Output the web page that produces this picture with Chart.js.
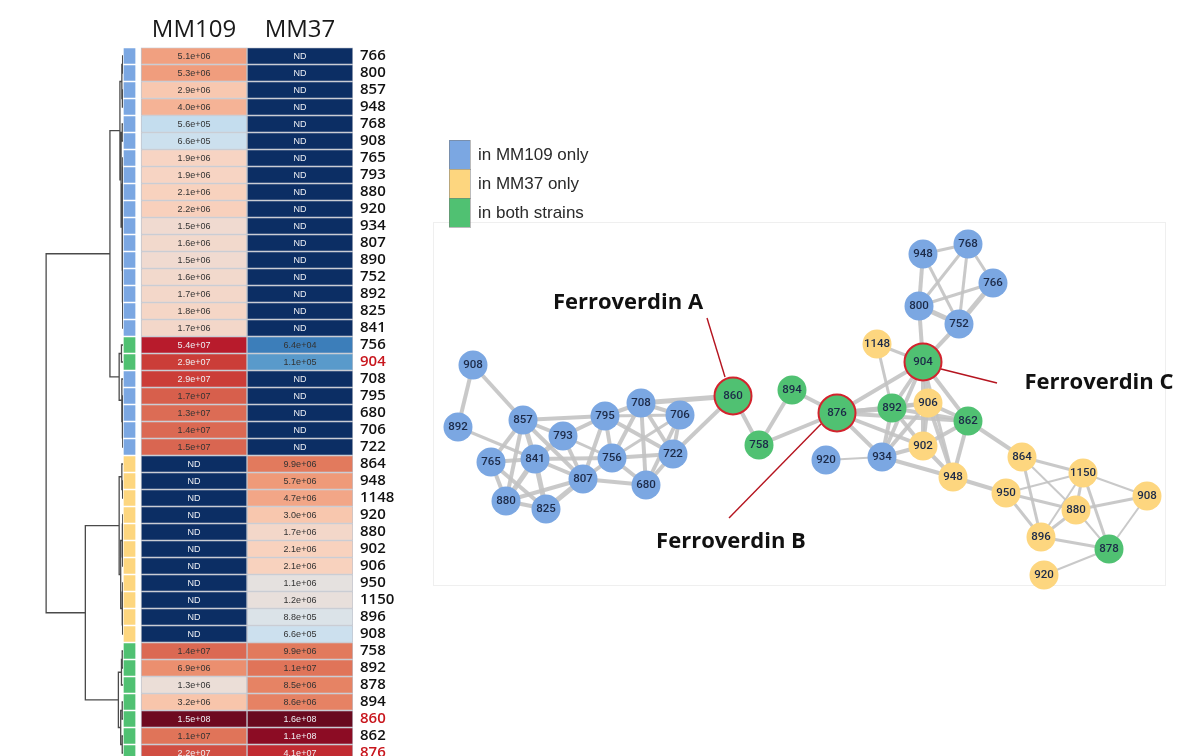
<!DOCTYPE html>
<html>
<head>
<meta charset="utf-8">
<script src="https://cdn.jsdelivr.net/npm/chart.js@4"></script>
<style>
  html, body { margin: 0; padding: 0; background: #fff; overflow: hidden; }
  #wrap { position: relative; width: 1178px; height: 756px; overflow: hidden; }
  canvas { position: absolute; }
</style>
</head>
<body>
<div id="wrap">
  <canvas id="dendro" width="123" height="770" style="left:0;top:0"></canvas>
  <canvas id="heat" width="320" height="790" style="left:100px;top:0"></canvas>
  <canvas id="net" width="758" height="490" style="left:420px;top:120px"></canvas>
</div>
<script>
// ---- heatmap data (rows top to bottom) ----
const rowLabels = ['766','800','857','948','768','908','765','793','880','920','934','807','890','752','892','825','841',
  '756','904','708','795','680','706','722',
  '864','948','1148','920','880','902','906','950','1150','896','908',
  '758','892','878','894','860','862','876'];
const rowGroups = ['b','b','b','b','b','b','b','b','b','b','b','b','b','b','b','b','b',
  'g','g','b','b','b','b','b',
  'y','y','y','y','y','y','y','y','y','y','y',
  'g','g','g','g','g','g','g'];
const mm109 = [5.1e6,5.3e6,2.9e6,4.0e6,5.6e5,6.6e5,1.9e6,1.9e6,2.1e6,2.2e6,1.5e6,1.6e6,1.5e6,1.6e6,1.7e6,1.8e6,1.7e6,
  5.4e7,2.9e7,2.9e7,1.7e7,1.3e7,1.4e7,1.5e7,
  null,null,null,null,null,null,null,null,null,null,null,
  1.4e7,6.9e6,1.3e6,3.2e6,1.5e8,1.1e7,2.2e7];
const mm37 = [null,null,null,null,null,null,null,null,null,null,null,null,null,null,null,null,null,
  6.4e4,1.1e5,null,null,null,null,null,
  9.9e6,5.7e6,4.7e6,3.0e6,1.7e6,2.1e6,2.1e6,1.1e6,1.2e6,8.8e5,6.6e5,
  9.9e6,1.1e7,8.5e6,8.6e6,1.6e8,1.1e8,4.1e7];
const columnLabels = ['MM109', 'MM37'];
const redRows = [18, 39, 41];

// dendrogram: [height, left, right], leaves are row indices
const tree = [10,
  [1.7,
    [0.4,
      [0.15, [0.05, 0, 1], [0.08, 2, 3]],
      [0.25, [0.1, 4, 5],
        [0.12, [0.06, [0.03, 6, 7], [0.03, 8, 9]],
               [0.08, [0.04, 10, [0.02, 11, 12]], [0.05, [0.02, 13, 14], [0.03, 15, 16]]]]]],
    [0.5, [0.2, 17, 18], [0.15, 19, [0.1, [0.03, 20, 21], [0.03, 22, 23]]]]],
  [4.9,
    [0.5, [0.15, 24, [0.05, 25, 26]],
          [0.3, [0.1, [0.03, 27, 28], [0.04, 29, 30]], [0.12, [0.03, 31, 32], [0.05, 33, 34]]]],
    [0.6, [0.2, [0.1, 35, 36], 37], [0.3, [0.1, 38, 39], [0.1, 40, 41]]]]];

// ---- network data ----
const nodeIds = ['b908','b892','b857','b793','b795','b708','b706','g860','g894','g758','b765','b841','b756','b722',
  'b807','b680','b880','b825','b948','b768','b766','b800','b752','y1148','g904','g876','g892','y906','g862',
  'y902','b934','b920','y948','y864','y1150','y950','y880','y908','y896','g878','y920'];
const nodeX = [473,458,523,563,605,641,680,733,792,759,491,535,612,673,583,646,506,546,
  923,968,993,919,959,877,923,837,892,928,968,923,882,826,953,1022,1083,1006,1076,1147,1041,1109,1044];
const nodeY = [365,427,420,436,416,403,415,396,390,445,462,459,458,454,479,485,501,509,
  254,244,283,306,324,344,362,413,408,403,421,446,457,460,477,457,473,493,510,496,537,549,575];
const highlighted = ['g860','g876','g904'];
const edges = ['b908-b892','b908-b857','b892-b841','b857-b795','b857-b793','b857-b765','b857-b841','b857-b807',
  'b857-b880','b793-b841','b793-b807','b793-b795','b793-b756','b795-b708','b795-b756','b795-b722','b795-b807',
  'b795-b706','b708-b706','b708-g860','b708-b756','b708-b722','b708-b680','b706-b722','b706-b756','b706-b680',
  'b722-g860','b722-b756','b722-b680','b756-b680','b756-b807','b756-b841','b807-b680','b765-b841','b765-b880',
  'b765-b825','b841-b880','b841-b825','b841-b807','b880-b825','b807-b825','b807-b880',
  'g860-g758','g758-g894','g758-g876','g894-g876','g876-g904','g876-g892','g876-y906','g876-g862','g876-y902',
  'g876-b934','b920-b934','b934-g892','b934-g904','b934-y906','b934-y902','b934-y948','g892-g904','g892-y906',
  'g892-y902','g892-g862','y906-g904','y906-y902','y906-g862','y906-y948','y902-g904','y902-g862','y902-y948',
  'g862-g904','g862-y948','g862-y864','y1148-g904','y1148-g892','g904-b800','g904-b752','g904-y948',
  'b800-b948','b800-b766','b800-b752','b800-b768','b948-b768','b948-b752','b768-b766','b768-b752','b766-b752',
  'y948-y950','y864-y1150','y864-y880','y864-y896','y950-y1150','y950-y880','y950-y896','y1150-y880',
  'y1150-y908','y1150-g878','y1150-y896','y880-y908','y880-y896','y880-g878','y908-g878','y896-g878','g878-y920'];
const edgeWeight = [3,3,2,3,3,3,4,3,3,4,3,3,2,3,3,3,3,2,3,4,3,3,3,3,2,3,3,3,3,3,3,3,3,3,3,3,4,4,3,3,4,3,
  3,3,3,3,3,4,3,3,3,3,1,3,3,3,3,3,3,3,3,3,3,3,3,3,3,3,3,3,3,3,2,2,3,3,2,
  3,2,4,2,2,2,2,2,4,3,2,1,2,1,2,2,2,1,2,1,2,2,1,1,2,1];
const annotations = [
  { text: 'Ferroverdin A', tx: 628, ty: 303, from: [707, 318], to: [725, 377] },
  { text: 'Ferroverdin B', tx: 731, ty: 542, from: [729, 518], to: [821, 424] },
  { text: 'Ferroverdin C', tx: 1099, ty: 383, from: [941, 369], to: [997, 383] }
];
const legendItems = [['b', 'in MM109 only'], ['y', 'in MM37 only'], ['g', 'in both strains']];

const groupColors = { b: '#7ba7e2', y: '#fdd67f', g: '#50c172' };
const ndColor = '#0c2e64';
const stops = [[4.8,'#3b7dba'],[5.05,'#5a9bcc'],[5.75,'#c4ddee'],[5.85,'#cfe2ee'],[6.0,'#e2e3e4'],
  [6.15,'#eedcd3'],[6.3,'#f8d3c0'],[6.5,'#f8c6ac'],[6.6,'#f5b396'],[6.72,'#f09e7d'],[6.85,'#eb8e6e'],
  [7.0,'#e2795c'],[7.2,'#d8634f'],[7.45,'#cc3f39'],[7.75,'#b7192b'],[8.05,'#8b0c24'],[8.2,'#690a1f']];

function hexRgb(h) { return [1, 3, 5].map(i => parseInt(h.substr(i, 2), 16)); }
function colorFor(v) {
  if (v == null) return ndColor;
  const l = Math.log10(v);
  if (l <= stops[0][0]) return stops[0][1];
  for (let i = 1; i < stops.length; i++) {
    if (l <= stops[i][0]) {
      const t = (l - stops[i - 1][0]) / (stops[i][0] - stops[i - 1][0]);
      const a = hexRgb(stops[i - 1][1]), b = hexRgb(stops[i][1]);
      return 'rgb(' + a.map((c, k) => Math.round(c + (b[k] - c) * t)).join(',') + ')';
    }
  }
  return stops[stops.length - 1][1];
}
function fmt(v) {
  if (v == null) return 'ND';
  return v.toExponential(1).replace(/e([+-])(\d)$/, 'e$10$2');
}

Chart.defaults.animation = false;
Chart.defaults.plugins.legend.display = false;
Chart.defaults.plugins.tooltip.enabled = false;

// ---- dendrogram ----
const dendroPts = [];
function walk(node) {
  if (typeof node === 'number') return { y: node, h: 0 };
  const [h, l, r] = node;
  const a = walk(l), b = walk(r);
  dendroPts.push({ x: a.h, y: a.y }, { x: h, y: a.y }, { x: h, y: b.y }, { x: b.h, y: b.y }, { x: null, y: null });
  return { y: (a.y + b.y) / 2, h: h };
}
walk(tree);

new Chart(document.getElementById('dendro'), {
  type: 'line',
  data: { datasets: [{ data: dendroPts, borderColor: '#4a4a4a', borderWidth: 1.3, pointRadius: 0, spanGaps: false, tension: 0 }] },
  options: {
    responsive: false,
    layout: { autoPadding: false, padding: { top: 47.5, bottom: 8.5, left: 0, right: 0 } },
    scales: {
      x: { type: 'linear', min: 0, max: 16, reverse: true, display: false },
      y: { type: 'linear', min: -0.5, max: 41.5, reverse: true, display: false }
    }
  }
});

// ---- heatmap ----
const cellText = {
  id: 'cellText',
  afterDatasetsDraw(chart) {
    const ctx = chart.ctx;
    ctx.save();
    ctx.font = '9px "Liberation Sans", Arial, sans-serif';
    ctx.textAlign = 'center';
    ctx.textBaseline = 'middle';
    [mm109, mm37].forEach((vals, di) => {
      chart.getDatasetMeta(di).data.forEach((el, i) => {
        const v = vals[i];
        const dark = v == null || Math.log10(v) >= 7.3;
        ctx.fillStyle = dark ? '#eef0f4' : '#333';
        const p = el.getCenterPoint();
        ctx.fillText(fmt(v), p.x, p.y + 0.5);
      });
    });
    ctx.restore();
  }
};

new Chart(document.getElementById('heat'), {
  type: 'bar',
  data: {
    labels: rowLabels,
    datasets: [
      { label: columnLabels[0], data: rowLabels.map(() => [0, 1]), backgroundColor: mm109.map(colorFor),
        borderColor: 'rgba(185,190,200,0.9)', borderWidth: 1, borderSkipped: false },
      { label: columnLabels[1], data: rowLabels.map(() => [1, 2]), backgroundColor: mm37.map(colorFor),
        borderColor: 'rgba(185,190,200,0.9)', borderWidth: 1, borderSkipped: false },
      { label: 'group', data: rowLabels.map(() => [-0.17, -0.047]), backgroundColor: rowGroups.map(g => groupColors[g]),
        borderColor: 'rgba(255,255,255,0.3)', borderWidth: 1, borderSkipped: false }
    ]
  },
  options: {
    responsive: false,
    indexAxis: 'y',
    layout: { autoPadding: false, padding: { top: 0, bottom: 28.5, left: 23, right: 0 } },
    datasets: { bar: { grouped: false, barPercentage: 1, categoryPercentage: 1 } },
    scales: {
      x: {
        type: 'linear', position: 'top', min: -0.17, max: 2,
        grid: { display: false, drawTicks: false }, border: { display: false },
        afterBuildTicks: s => { s.ticks = [{ value: 0.5 }, { value: 1.5 }]; },
        afterFit: s => { s.height = 47.5; },
        ticks: {
          padding: 3, color: '#1a1a1a', maxRotation: 0, autoSkip: false,
          font: { family: '"Open Sans", sans-serif', size: 24 },
          callback: v => columnLabels[Math.floor(v)]
        }
      },
      y: {
        type: 'category', position: 'right',
        grid: { display: false, drawTicks: false }, border: { display: false },
        afterFit: s => { s.width = 67; },
        ticks: {
          padding: 7, autoSkip: false,
          color: c => redRows.includes(c.index) ? '#c8161d' : '#111',
          font: { family: '"Open Sans", sans-serif', size: 15, weight: '600' }
        }
      }
    }
  },
  plugins: [cellText]
});

// ---- network ----
const idx = id => nodeIds.indexOf(id);
const edgePts = [];
edges.forEach(e => {
  const [a, b] = e.split('-').map(idx);
  edgePts.push({ x: nodeX[a], y: nodeY[a] }, { x: nodeX[b], y: nodeY[b] }, { x: null, y: null });
});

const netDecor = {
  id: 'netDecor',
  beforeDatasetsDraw(chart) {
    const { ctx, scales: { x, y } } = chart;
    ctx.save();
    ctx.strokeStyle = '#efefef';
    ctx.lineWidth = 1;
    ctx.strokeRect(x.getPixelForValue(433) + 0.5, y.getPixelForValue(222) + 0.5,
      x.getPixelForValue(1165) - x.getPixelForValue(433), y.getPixelForValue(585) - y.getPixelForValue(222));
    ctx.restore();
  },
  afterDatasetsDraw(chart) {
    const { ctx, scales: { x, y } } = chart;
    ctx.save();
    // node labels
    ctx.font = '500 11.5px Roboto, "Liberation Sans", sans-serif';
    ctx.textAlign = 'center';
    ctx.textBaseline = 'middle';
    ctx.fillStyle = '#1c2a48';
    chart.getDatasetMeta(0).data.forEach((el, i) => {
      ctx.fillText(nodeIds[i].slice(1), el.x, el.y + 0.5);
    });
    // annotations
    annotations.forEach(a => {
      ctx.strokeStyle = '#b5141f';
      ctx.lineWidth = 1.4;
      ctx.beginPath();
      ctx.moveTo(x.getPixelForValue(a.from[0]), y.getPixelForValue(a.from[1]));
      ctx.lineTo(x.getPixelForValue(a.to[0]), y.getPixelForValue(a.to[1]));
      ctx.stroke();
      ctx.fillStyle = '#111';
      ctx.font = '700 22px "Open Sans", sans-serif';
      ctx.fillText(a.text, x.getPixelForValue(a.tx), y.getPixelForValue(a.ty));
    });
    // legend
    legendItems.forEach(([g, label], i) => {
      const top = y.getPixelForValue(140 + i * 29);
      const left = x.getPixelForValue(449);
      ctx.fillStyle = groupColors[g];
      ctx.fillRect(left, top, 21, 29);
      ctx.strokeStyle = 'rgba(120,120,120,0.5)';
      ctx.lineWidth = 1;
      ctx.strokeRect(left + 0.5, top + 0.5, 21, 29);
      ctx.fillStyle = '#2a2a2a';
      ctx.font = '17px "Liberation Sans", Arial, sans-serif';
      ctx.textAlign = 'left';
      ctx.fillText(label, x.getPixelForValue(478), top + 15);
      ctx.textAlign = 'center';
    });
    ctx.restore();
  }
};

new Chart(document.getElementById('net'), {
  type: 'scatter',
  data: {
    datasets: [
      {
        label: 'nodes', order: 0,
        data: nodeIds.map((id, i) => ({ x: nodeX[i], y: nodeY[i] })),
        backgroundColor: nodeIds.map(id => groupColors[id[0]]),
        borderColor: nodeIds.map(id => highlighted.includes(id) ? '#d3232d' : 'rgba(0,0,0,0)'),
        borderWidth: nodeIds.map(id => highlighted.includes(id) ? 2 : 0),
        pointRadius: nodeIds.map(id => highlighted.includes(id) ? 18.5 : 14.5),
        pointHoverRadius: nodeIds.map(id => highlighted.includes(id) ? 18.5 : 14.5)
      },
      {
        label: 'edges', type: 'line', order: 1,
        data: edgePts, borderColor: 'rgba(195,195,195,0.9)', pointRadius: 0, spanGaps: false,
        borderWidth: 3,
        segment: { borderWidth: c => 1 + edgeWeight[Math.floor(c.p0DataIndex / 3)] }
      }
    ]
  },
  options: {
    responsive: false,
    layout: { autoPadding: false, padding: 0 },
    scales: {
      x: { type: 'linear', min: 420, max: 1178, display: false },
      y: { type: 'linear', min: 120, max: 610, reverse: true, display: false }
    }
  },
  plugins: [netDecor]
});
</script>
</body>
</html>
